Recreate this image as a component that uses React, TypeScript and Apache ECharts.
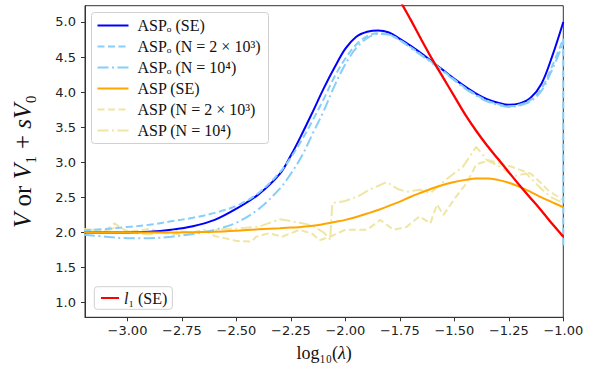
import React, { useEffect, useRef } from "react";
import * as echarts from "echarts";

// Smooth curves share one x grid (log10 lambda)
const xGrid = [-3.2, -3.1, -3.0, -2.9, -2.8, -2.7, -2.6, -2.5, -2.4, -2.3, -2.25, -2.2, -2.15, -2.1, -2.05, -2.0, -1.95, -1.9, -1.85, -1.8, -1.75, -1.7, -1.65, -1.6, -1.55, -1.5, -1.45, -1.4, -1.35, -1.3, -1.25, -1.2, -1.15, -1.1, -1.05, -1.0];

const aspoSE = [2.0, 2.0, 2.0, 2.01, 2.04, 2.09, 2.18, 2.34, 2.54, 2.84, 3.1, 3.4, 3.72, 4.05, 4.35, 4.62, 4.79, 4.86, 4.88, 4.85, 4.76, 4.66, 4.55, 4.43, 4.31, 4.19, 4.08, 3.98, 3.9, 3.85, 3.82, 3.84, 3.92, 4.12, 4.52, 5.0];
const aspoN2e3 = [2.03, 2.05, 2.08, 2.11, 2.16, 2.21, 2.28, 2.38, 2.56, 2.86, 3.07, 3.32, 3.6, 3.9, 4.22, 4.48, 4.68, 4.8, 4.84, 4.82, 4.74, 4.64, 4.53, 4.42, 4.3, 4.18, 4.06, 3.96, 3.88, 3.83, 3.8, 3.82, 3.89, 4.05, 4.38, 4.76];
const aspoN2e3Tail = [1.82];
const aspoN1e4 = [1.97, 1.94, 1.92, 1.92, 1.94, 1.98, 2.04, 2.14, 2.33, 2.63, 2.84, 3.09, 3.41, 3.73, 4.09, 4.4, 4.63, 4.77, 4.83, 4.82, 4.74, 4.63, 4.52, 4.41, 4.29, 4.17, 4.05, 3.95, 3.87, 3.82, 3.79, 3.81, 3.87, 4.02, 4.33, 4.7];
const aspSE = [2.0, 2.0, 2.0, 2.0, 2.0, 2.005, 2.01, 2.025, 2.045, 2.06, 2.07, 2.08, 2.095, 2.12, 2.15, 2.18, 2.22, 2.27, 2.32, 2.38, 2.44, 2.51, 2.57, 2.63, 2.68, 2.72, 2.75, 2.77, 2.77, 2.75, 2.71, 2.65, 2.58, 2.5, 2.43, 2.36];

const aspN2e3X = [-3.2, -3.15, -3.1, -3.06, -3.0, -2.95, -2.9, -2.83, -2.74, -2.65, -2.6, -2.556, -2.5, -2.43, -2.41, -2.35, -2.29, -2.21, -2.15, -2.12, -2.07, -2.0, -1.9, -1.84, -1.78, -1.72, -1.66, -1.61, -1.58, -1.55, -1.5, -1.44, -1.4, -1.34, -1.3, -1.24, -1.15, -1.1, -1.07, -1.03, -1.0];
const aspN2e3Y = [2.0, 2.02, 2.03, 2.13, 2.01, 2.03, 2.05, 1.99, 1.97, 2.04, 1.95, 1.92, 1.88, 1.87, 1.94, 1.99, 1.94, 2.04, 1.98, 1.89, 1.94, 2.04, 2.04, 2.18, 2.04, 2.08, 2.23, 2.13, 2.4, 2.25, 2.48, 2.72, 2.97, 3.03, 2.99, 2.94, 2.84, 2.7, 2.6, 2.52, 2.46];

const aspN1e4X = [-3.2, -3.1, -3.05, -2.98, -2.9, -2.8, -2.69, -2.58, -2.49, -2.4, -2.3, -2.21, -2.15, -2.1, -2.07, -2.06, -2.0, -1.94, -1.89, -1.81, -1.76, -1.72, -1.66, -1.61, -1.54, -1.46, -1.4, -1.35, -1.29, -1.23, -1.17, -1.11, -1.06, -1.0];
const aspN1e4Y = [2.05, 2.02, 2.08, 2.0, 1.97, 2.04, 1.99, 2.04, 2.06, 2.08, 2.19, 2.14, 2.1, 2.0, 1.9, 2.42, 2.45, 2.52, 2.61, 2.72, 2.62, 2.58, 2.61, 2.56, 2.75, 2.94, 3.22, 3.03, 2.94, 2.8, 2.84, 2.65, 2.51, 2.42];

const l1X = [-1.78, -1.75, -1.7, -1.65, -1.6, -1.55, -1.5, -1.45, -1.4, -1.35, -1.3, -1.25, -1.2, -1.15, -1.1, -1.05, -1.0];
const l1Y = [5.5, 5.31, 5.03, 4.74, 4.46, 4.2, 3.94, 3.68, 3.45, 3.24, 3.05, 2.86, 2.67, 2.49, 2.31, 2.12, 1.94];

const xTicks = [-3.0, -2.75, -2.5, -2.25, -2.0, -1.75, -1.5, -1.25, -1.0];
const yTicks = [1.0, 1.5, 2.0, 2.5, 3.0, 3.5, 4.0, 4.5, 5.0];

const names = [
  "ASPₒ (SE)",
  "ASPₒ (N = 2 × 10³)",
  "ASPₒ (N = 10⁴)",
  "ASP (SE)",
  "ASP (N = 2 × 10³)",
  "ASP (N = 10⁴)",
];
const l1Name = "l1 (SE)";

const zip = (xs: number[], ys: number[]) => xs.map((x, i) => [x, ys[i]]);

const SERIF = "'Liberation Serif', 'DejaVu Serif', serif";

export default function App() {
  const ref = useRef<HTMLDivElement>(null);
  useEffect(() => {
    if (!ref.current) return;
    const chart = echarts.init(ref.current, undefined, { renderer: "svg" });
    const line = (name: string, data: number[][], color: string, type: any, width: number, z: number, smooth: any) => ({
      name,
      type: "line",
      data,
      symbol: "none",
      showSymbol: false,
      smooth,
      z,
      lineStyle: { color, type, width },
      itemStyle: { color },
    });
    const dashed = [7, 3.5];
    const dashdot = [11, 3.5, 2, 3.5];
    chart.setOption({
      animation: false,
      backgroundColor: "#fff",
      grid: {
        left: 85,
        right: 35.7,
        top: 5.7,
        bottom: 53.7,
        show: true,
        borderColor: "#333",
        borderWidth: 1,
        containLabel: false,
        outerBoundsMode: "none",
      },
      xAxis: {
        type: "value",
        min: -3.195,
        max: -1.0,
        name: "log₁₀({i|λ})",
        nameLocation: "middle",
        nameGap: 27,
        nameTextStyle: {
          fontFamily: SERIF,
          fontSize: 18,
          color: "#111",
          rich: { i: { fontFamily: SERIF, fontSize: 18, fontStyle: "italic", color: "#111" } },
        },
        axisLine: { show: true, onZero: false, lineStyle: { color: "#333", width: 1 } },
        axisTick: { show: true, length: 4, lineStyle: { color: "#333" }, customValues: xTicks },
        axisLabel: {
          customValues: xTicks,
          margin: 7,
          fontFamily: "'DejaVu Sans', sans-serif",
          fontSize: 13,
          color: "#222",
          formatter: (v: number) => v.toFixed(2).replace("-", "−"),
        },
        splitLine: { show: false },
      },
      yAxis: {
        type: "value",
        min: 0.792,
        max: 5.232,
        name: "{i|V} or {i|V}₁ + {i|sV}₀",
        nameLocation: "middle",
        nameGap: 50,
        nameRotate: 90,
        nameTextStyle: {
          fontFamily: SERIF,
          fontSize: 25,
          color: "#111",
          rich: { i: { fontFamily: SERIF, fontSize: 25, fontStyle: "italic", color: "#111" } },
        },
        axisLine: { show: true, onZero: false, lineStyle: { color: "#333", width: 1 } },
        axisTick: { show: true, length: 4, lineStyle: { color: "#333" }, customValues: yTicks },
        axisLabel: {
          customValues: yTicks,
          margin: 9,
          fontFamily: "'DejaVu Sans', sans-serif",
          fontSize: 13,
          color: "#222",
          formatter: (v: number) => v.toFixed(1),
        },
        splitLine: { show: false },
      },
      legend: [
        {
          data: names,
          orient: "vertical",
          left: 91.5,
          top: 12.5,
          itemWidth: 31,
          itemHeight: 14,
          itemGap: 5,
          padding: [5, 8, 5, 5],
          backgroundColor: "rgba(255,255,255,0.8)",
          borderColor: "#d0d0d0",
          borderWidth: 1,
          borderRadius: 3,
          itemStyle: { opacity: 0 },
          textStyle: { fontFamily: SERIF, fontSize: 16, lineHeight: 16, color: "#111", padding: [0, 0, 0, 4] },
        },
        {
          data: [l1Name],
          orient: "vertical",
          left: 94.3,
          top: 286.7,
          itemWidth: 18,
          itemHeight: 14,
          padding: [3.3, 5, 3.3, 5.7],
          backgroundColor: "rgba(255,255,255,0.8)",
          borderColor: "#d0d0d0",
          borderWidth: 1,
          borderRadius: 3,
          itemStyle: { opacity: 0 },
          formatter: () => "{i|l}₁ (SE)",
          textStyle: {
            fontFamily: SERIF,
            fontSize: 16,
            lineHeight: 16,
            color: "#111",
            rich: { i: { fontFamily: SERIF, fontSize: 16, fontStyle: "italic", color: "#111" } },
          },
        },
      ],
      series: [
        line(names[0], zip(xGrid, aspoSE), "#0000ff", "solid", 2, 2, 0.35),
        line(names[1], [...zip(xGrid, aspoN2e3), [-1.0, aspoN2e3Tail[0]]], "#87cefa", dashed, 2, 3, 0.35),
        line(names[2], zip(xGrid, aspoN1e4), "#87cefa", dashdot, 2, 3, 0.35),
        line(names[3], zip(xGrid, aspSE), "#ffa500", "solid", 2, 4, 0.35),
        line(names[4], zip(aspN2e3X, aspN2e3Y), "#efe6a4", dashed, 2, 1, false),
        line(names[5], zip(aspN1e4X, aspN1e4Y), "#efe6a4", dashdot, 2, 1, false),
        line(l1Name, zip(l1X, l1Y), "#ff0000", "solid", 2.3, 5, 0.3),
      ],
    });
    return () => chart.dispose();
  }, []);
  return <div ref={ref} style={{ width: 599, height: 371, position: "absolute", left: 0, top: 0 }} />;
}
